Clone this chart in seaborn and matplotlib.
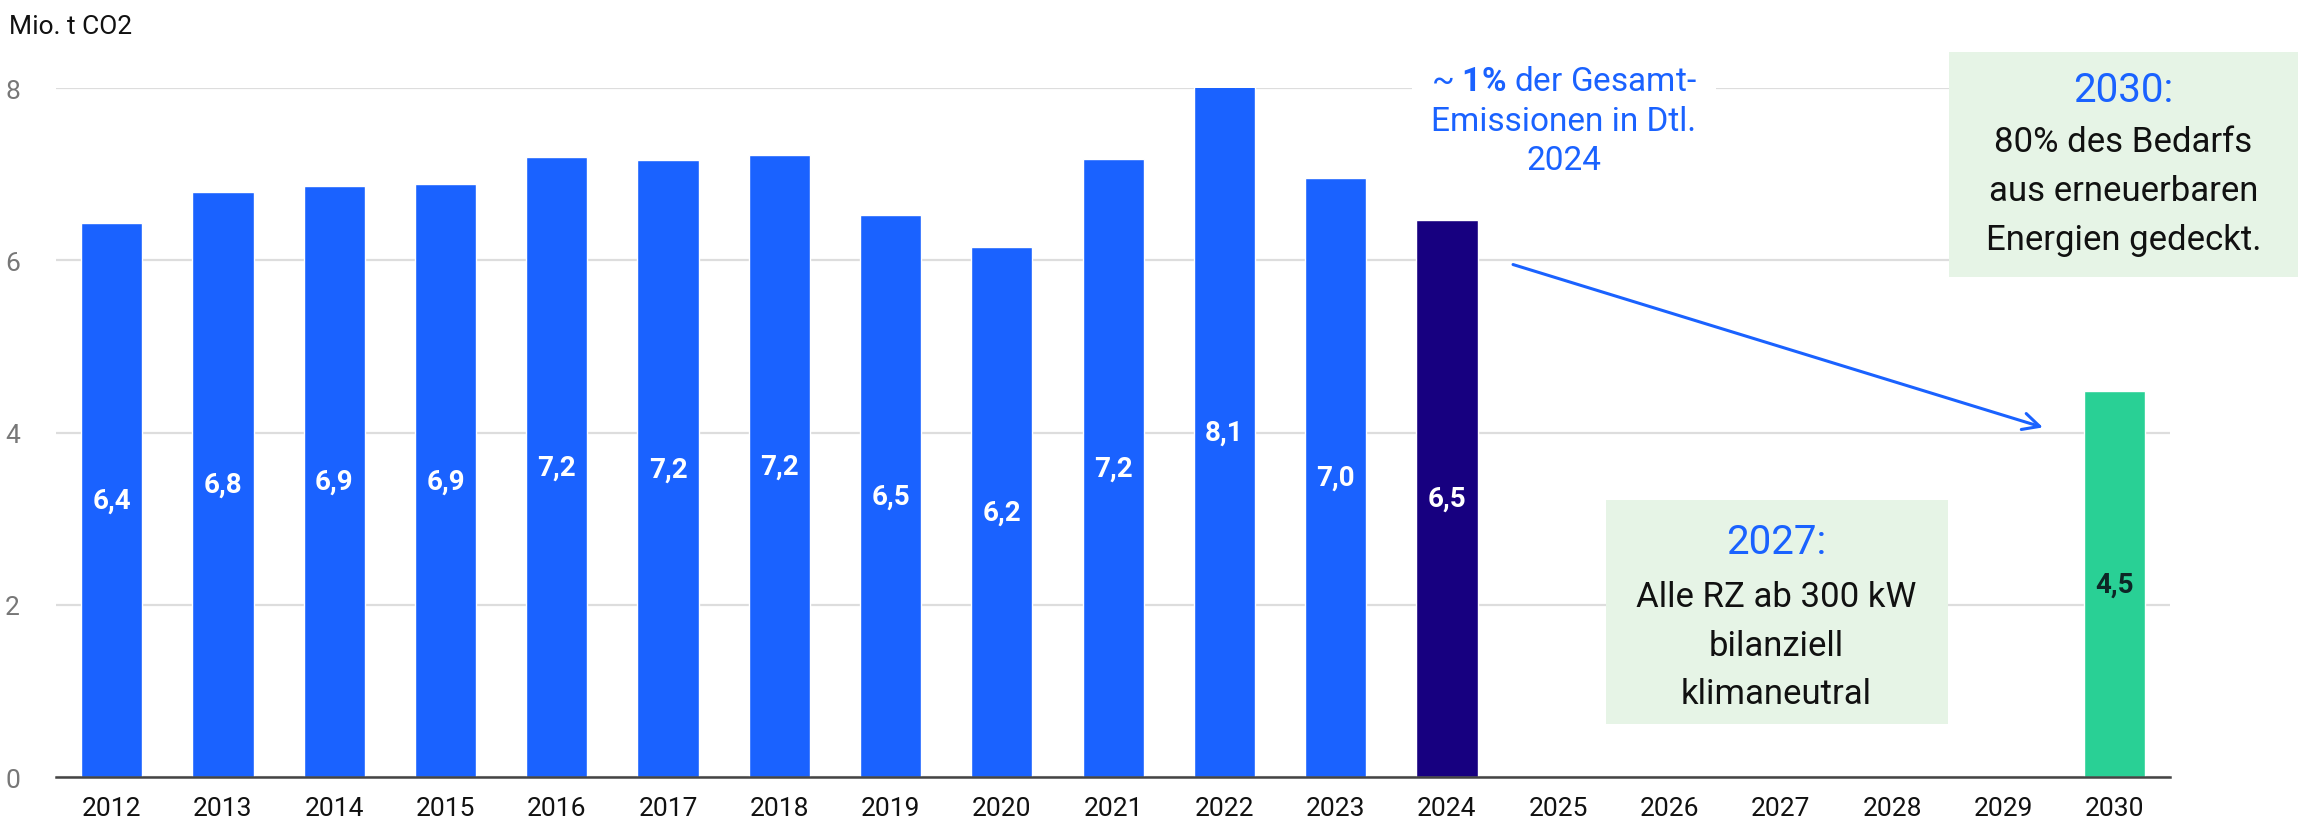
import numpy as np
import pandas as pd
import matplotlib
matplotlib.use("Agg")
import matplotlib.pyplot as plt
import seaborn as sns
from matplotlib.patches import Rectangle

# data
years = [str(y) for y in range(2012, 2031)]
emissions = [6.43, 6.79, 6.86, 6.88, 7.20, 7.16, 7.22, 6.52, 6.16, 7.18, 8.10, 6.96, 6.47,
             np.nan, np.nan, np.nan, np.nan, np.nan, 4.48]
yticks = [0, 2, 4, 6, 8]

BLUE = "#1a62ff"
NAVY = "#170080"
GREEN = "#29d095"
BOX = "#e6f4e6"

colors = {y: BLUE for y in years}
colors["2024"] = NAVY
colors["2030"] = GREEN

sns.set_style("white")
plt.rcParams["font.family"] = ["Roboto", "DejaVu Sans"]
plt.rcParams["mathtext.fontset"] = "custom"
plt.rcParams["mathtext.rm"] = "Roboto"
plt.rcParams["mathtext.bf"] = "Roboto:bold"

df = pd.DataFrame({"year": years, "value": emissions})

fig = plt.figure(figsize=(22.98, 8.29), dpi=100)
ax = fig.add_axes([0.0244, 0.0615, 0.92, 0.8311])

sns.barplot(data=df, x="year", y="value", hue="year", order=years, hue_order=years,
            palette=colors, width=0.55, legend=False, ax=ax, saturation=1, zorder=3)

ax.set_ylim(0, 8)
ax.set_xlim(-0.5, 18.5)
ax.set_yticks(yticks)
ax.set_yticklabels([str(t) for t in yticks])
ax.yaxis.grid(True, color="#dddddd", linewidth=1.6, zorder=0)
ax.set_axisbelow(True)
for s in ["top", "right", "left"]:
    ax.spines[s].set_visible(False)
ax.spines["bottom"].set_color("#444444")
ax.spines["bottom"].set_linewidth(1.8)
ax.spines["bottom"].set_zorder(4)
ax.tick_params(axis="x", length=0, pad=14, labelsize=19, labelcolor="#111111")
ax.tick_params(axis="y", length=0, pad=26, labelsize=19, labelcolor="#777777")
ax.set_xlabel("")
ax.set_ylabel("")

# value labels inside bars
for i, v in enumerate(emissions):
    if np.isnan(v):
        continue
    txt = f"{v:.1f}".replace(".", ",")
    col = "#0d2626" if years[i] == "2030" else "white"
    ax.text(i, min(v, 8) / 2, txt, ha="center", va="center", color=col,
            fontsize=20, fontweight="bold", zorder=5)

fig.text(0.004, 0.968, "Mio. t CO2", ha="left", va="center", fontsize=19, color="#111111")

# note on share of total emissions
ax.text(13.05, 7.62, "~ $\\mathbf{1\\%}$ der Gesamt-\nEmissionen in Dtl.\n2024",
        ha="center", va="center", color=BLUE, fontsize=24, linespacing=1.3,
        bbox=dict(facecolor="white", edgecolor="none", pad=14), zorder=6, clip_on=False)

# arrow from 2024 to 2030
ax.annotate("", xy=(17.38, 4.05), xytext=(12.57, 5.96),
            arrowprops=dict(arrowstyle="->", color=BLUE, lw=2.2, mutation_scale=30),
            zorder=6, annotation_clip=False)

# 2030 goal box
ax.add_patch(Rectangle((16.51, 5.81), 3.2, 2.61, facecolor=BOX, edgecolor="none",
                       zorder=2, clip_on=False))
ax.text(18.08, 7.98, "2030:", ha="center", va="center", color=BLUE, fontsize=29, clip_on=False, zorder=6)
ax.text(18.08, 6.81, "80% des Bedarfs\naus erneuerbaren\nEnergien gedeckt.", ha="center",
        va="center", color="#111111", fontsize=25, linespacing=1.6, clip_on=False, zorder=6)

# 2027 goal box
ax.add_patch(Rectangle((13.43, 0.62), 3.07, 2.6, facecolor=BOX, edgecolor="none",
                       zorder=2, clip_on=False))
ax.text(14.96, 2.73, "2027:", ha="center", va="center", color=BLUE, fontsize=29, zorder=6)
ax.text(14.96, 1.53, "Alle RZ ab 300 kW\nbilanziell\nklimaneutral", ha="center",
        va="center", color="#111111", fontsize=25, linespacing=1.6, zorder=6)

fig.savefig("out.png", dpi=100)
